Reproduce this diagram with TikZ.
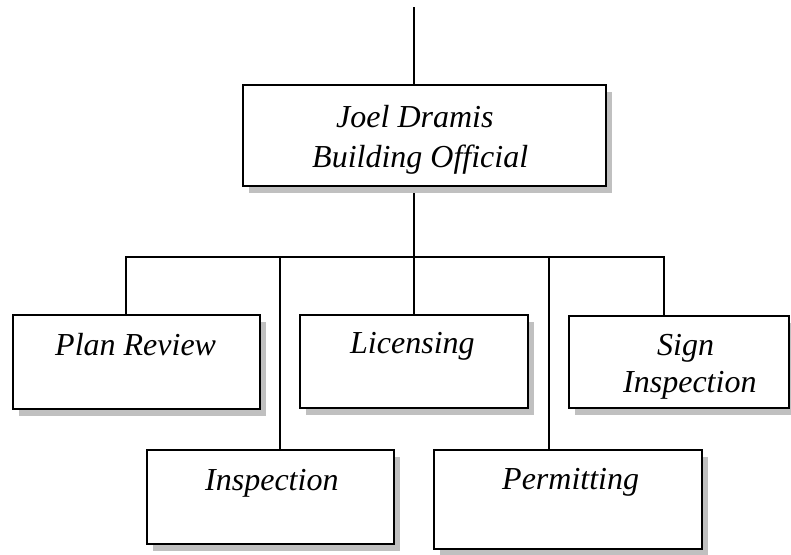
\documentclass[tikz,border=0pt]{standalone}
\usepackage{fontspec}
\setmainfont{Liberation Serif}
\usetikzlibrary{shadows}
\definecolor{shadowgray}{HTML}{C0C0C0}
\begin{document}
\begin{tikzpicture}[x=1pt,y=-1pt,
 box/.style={draw, line width=1.8pt, fill=white, inner sep=0pt,
   drop shadow={shadow xshift=6pt, shadow yshift=-7pt, fill=shadowgray, opacity=1}},
 lbl/.style={anchor=base west, inner sep=0pt, font=\fontsize{32}{38}\selectfont\itshape},
 conn/.style={line width=1.8pt}]
\useasboundingbox (0,0) rectangle (791,554);
% boxes (paths only, to know anchors), drawn later on top of connectors
\path node[minimum width=363pt, minimum height=101pt] (top) at (424.5,135.5) {}
      node[minimum width=247pt, minimum height=94pt] (plan) at (136.5,362) {}
      node[minimum width=228pt, minimum height=93pt] (lic) at (414,361.5) {}
      node[minimum width=220pt, minimum height=92pt] (sign) at (679,362) {}
      node[minimum width=247pt, minimum height=94pt] (insp) at (270.5,497) {}
      node[minimum width=268pt, minimum height=99pt] (perm) at (568,499.5) {};
% connector points
\coordinate (tc) at (414,7);
\coordinate (busL) at (126,257);
\coordinate (busR) at (664,257);
\coordinate (busM) at (414,257);
\coordinate (ic) at (280,257);
\coordinate (pc) at (549,257);
% connectors
\draw[conn] (tc) -- (tc |- top.north);
\draw[conn] (busM |- top.south) -- (busM) -- (busM |- lic.north);
\draw[conn] (busL |- plan.north) -- (busL) -- (busR) -- (busR |- sign.north);
\draw[conn] (ic) -- (ic |- insp.north);
\draw[conn] (pc) -- (pc |- perm.north);
% boxes
\node[box, minimum width=363pt, minimum height=101pt] at (top) {};
\node[box, minimum width=247pt, minimum height=94pt] at (plan) {};
\node[box, minimum width=228pt, minimum height=93pt] at (lic) {};
\node[box, minimum width=220pt, minimum height=92pt] at (sign) {};
\node[box, minimum width=247pt, minimum height=94pt] at (insp) {};
\node[box, minimum width=268pt, minimum height=99pt] at (perm) {};
% texts
\node[lbl] (t1) at (336,127) {Joel Dramis};
\node[lbl] (t2) at (312,167) {Building Official};
\node[lbl] (t3) at (55,355) {Plan Review};
\node[lbl] (t4) at (350,353) {Licensing};
\node[lbl] (t5) at (657,355) {Sign};
\node[lbl] (t6) at (623,392) {Inspection};
\node[lbl] (t7) at (205,490) {Inspection};
\node[lbl] (t8) at (502,489) {Permitting};
\end{tikzpicture}
\end{document}
